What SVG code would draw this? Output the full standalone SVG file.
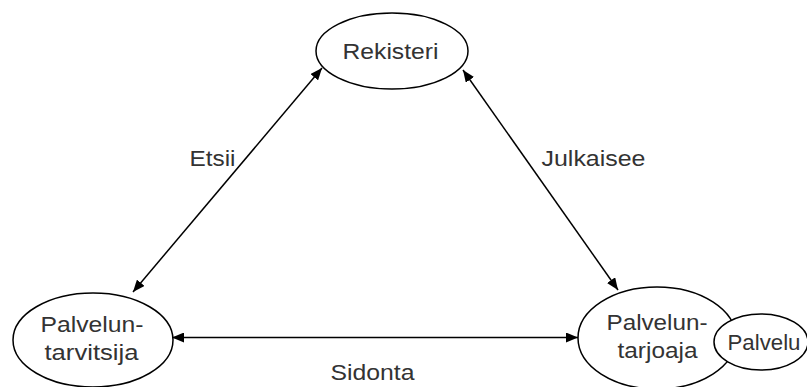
<svg xmlns="http://www.w3.org/2000/svg" width="807" height="387" viewBox="0 0 807 387">
  <style>
    .node { fill: #ffffff; stroke: #000000; stroke-width: 1.5; }
    .edge { fill: none; stroke: #000000; stroke-width: 1.5; marker-start: url(#head); marker-end: url(#head); }
    text { font-family: "Liberation Sans", Arial, sans-serif; font-size: 21.5px; fill: #333333; text-anchor: middle; }
  </style>
  <defs>
    <marker id="head" viewBox="0 0 12 10" refX="12" refY="5" markerWidth="12" markerHeight="10" markerUnits="userSpaceOnUse" orient="auto-start-reverse">
      <path d="M0,0 L12,5 L0,10 Z" fill="#000000"/>
    </marker>
  </defs>
  <rect width="807" height="387" fill="#ffffff"/>

  <g id="connectors">
    <line class="edge" x1="133" y1="292" x2="322" y2="68"/>
    <line class="edge" x1="618" y1="290" x2="463" y2="70"/>
    <line class="edge" x1="172" y1="337.5" x2="578" y2="337.5"/>
    <text x="212.5" y="166" textLength="46" lengthAdjust="spacingAndGlyphs">Etsii</text>
    <text x="593.5" y="166" textLength="104" lengthAdjust="spacingAndGlyphs">Julkaisee</text>
    <text x="372.5" y="380" textLength="84" lengthAdjust="spacingAndGlyphs">Sidonta</text>
  </g>

  <g id="rekisteri">
    <ellipse class="node" cx="392" cy="51" rx="76" ry="38"/>
    <text x="390.5" y="58.5" textLength="96" lengthAdjust="spacingAndGlyphs">Rekisteri</text>
  </g>

  <g id="palveluntarvitsija">
    <ellipse class="node" cx="93" cy="340" rx="80" ry="47"/>
    <text x="92" y="332" textLength="103" lengthAdjust="spacingAndGlyphs">Palvelun-</text>
    <text x="91.5" y="360" textLength="94" lengthAdjust="spacingAndGlyphs">tarvitsija</text>
  </g>

  <g id="palveluntarjoaja">
    <ellipse class="node" cx="657" cy="338" rx="79" ry="51"/>
    <text x="657" y="330" textLength="101" lengthAdjust="spacingAndGlyphs">Palvelun-</text>
    <text x="657.5" y="358" textLength="80" lengthAdjust="spacingAndGlyphs">tarjoaja</text>
  </g>

  <g id="palvelu">
    <ellipse class="node" cx="761" cy="342" rx="47" ry="28"/>
    <text x="764" y="350" textLength="73" lengthAdjust="spacingAndGlyphs">Palvelu</text>
  </g>
</svg>
